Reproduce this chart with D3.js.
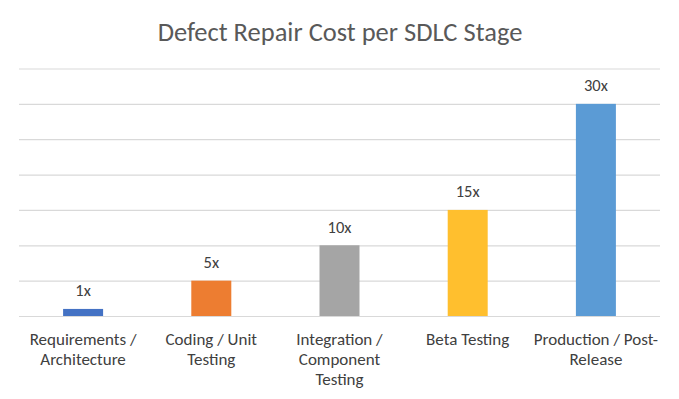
<!DOCTYPE html>
<html><head><meta charset="utf-8">
<script src="https://cdn.jsdelivr.net/npm/d3@7"></script>
<style>body{margin:0;background:#fff}svg{display:block}</style>
</head><body>
<svg id="c" width="679" height="399"></svg>
<script>
const title = "Defect Repair Cost per SDLC Stage";
const categories = ["Requirements / Architecture", "Coding / Unit Testing", "Integration / Component Testing", "Beta Testing", "Production / Post-Release"];
const categoryLines = [["Requirements /", "Architecture"], ["Coding / Unit", "Testing"], ["Integration /", "Component", "Testing"], ["Beta Testing"], ["Production / Post-", "Release"]];
const values = [1, 5, 10, 15, 30];
const valueLabels = ["1x", "5x", "10x", "15x", "30x"];
const colors = ["#4472C4", "#ED7D31", "#A5A5A5", "#FFBF2E", "#5B9BD5"];
const gridTicks = [0, 5, 10, 15, 20, 25, 30, 35];

const font = "Carlito, Lato, 'Open Sans', sans-serif";
const svg = d3.select("#c");
const plotL = 19, plotR = 660, plotT = 68.5, plotB = 316;

const x = d3.scaleBand().domain(categories).range([plotL, plotR]).paddingInner(0.688).paddingOuter(0.344);
const y = d3.scaleLinear().domain([0, 35]).range([plotB, plotT]);

svg.append("text").attr("x", 340).attr("y", 41).attr("text-anchor", "middle")
  .attr("font-family", font).attr("font-size", 26.5).attr("fill", "#595959").text(title);

const grid = d3.axisLeft(y).tickValues(gridTicks).tickSize(-(plotR - plotL)).tickFormat("");
const g = svg.append("g").attr("transform", `translate(${plotL},0)`).call(grid);
g.select(".domain").remove();
g.selectAll(".tick line").attr("stroke", "#D9D9D9").attr("stroke-width", 1.2);

svg.selectAll("rect.bar").data(values).join("rect").attr("class", "bar")
  .attr("x", (d, i) => x(categories[i])).attr("width", x.bandwidth())
  .attr("y", d => y(d)).attr("height", d => plotB - y(d))
  .attr("fill", (d, i) => colors[i]);

svg.selectAll("text.vl").data(values).join("text").attr("class", "vl")
  .attr("x", (d, i) => x(categories[i]) + x.bandwidth() / 2)
  .attr("y", d => y(d) - 12.5).attr("text-anchor", "middle")
  .attr("font-family", font).attr("font-size", 16.5).attr("fill", "#404040")
  .text((d, i) => valueLabels[i]);

categories.forEach((c, i) => {
  const t = svg.append("text").attr("text-anchor", "middle")
    .attr("font-family", font).attr("font-size", 17).attr("fill", "#404040");
  categoryLines[i].forEach((ln, j) => {
    t.append("tspan").attr("x", x(c) + x.bandwidth() / 2).attr("y", 344.5 + j * 20).text(ln);
  });
});
</script>
</body></html>
